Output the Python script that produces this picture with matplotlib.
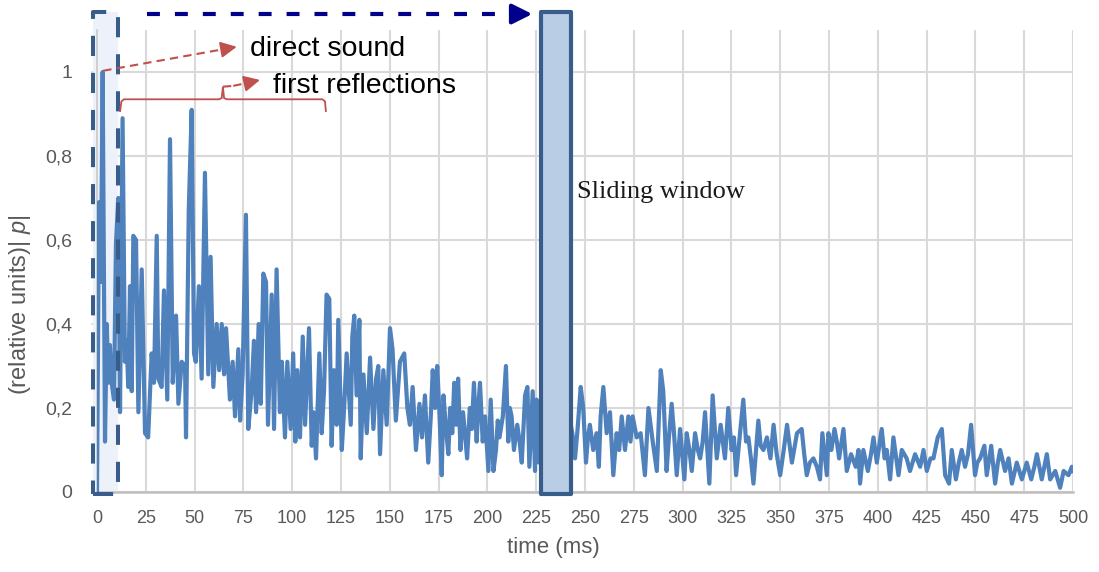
import matplotlib
matplotlib.use('Agg')
import matplotlib.pyplot as plt
from matplotlib.patches import Rectangle, PathPatch
from matplotlib.path import Path

plt.rcParams['font.family'] = ['Liberation Sans', 'DejaVu Sans']
plt.rcParams['mathtext.fontset'] = 'custom'
plt.rcParams['mathtext.it'] = 'Liberation Sans:italic'

# tiempo (ms) y amplitud relativa |p|
t_ms = [
    0, 1.0, 2.0, 2.9, 4.1, 5.0, 5.8, 6.6, 7.5, 8.7,
    9.7, 10.9, 11.8, 13.1, 14.3, 15.2, 16.0, 16.9, 17.8, 18.6,
    20.0, 21.2, 22.9, 24.6, 26.2, 28.0, 29.2, 30.6, 31.4, 33.1,
    34.3, 36.0, 37.4, 38.8, 40.5, 41.7, 43.4, 45.1, 45.6, 47.0,
    48.5, 49.7, 50.6, 52.2, 53.6, 55.3, 57.0, 58.2, 59.6, 61.3,
    62.6, 63.9, 65.1, 66.1, 68.1, 69.5, 70.7, 72.4, 73.3, 74.6,
    76.3, 77.5, 79.2, 80.4, 81.5, 82.8, 83.9, 85.2, 86.6, 87.6,
    89.5, 90.7, 92.0, 93.7, 94.7, 96.3, 97.5, 99.2, 100.5, 101.6,
    102.6, 104.0, 105.4, 106.6, 108.6, 110.0, 110.9, 112.2, 113.9, 115.1,
    116.3, 117.6, 119.0, 120.2, 121.4, 122.8, 123.6, 125.4, 126.6, 127.9,
    130.0, 130.8, 131.8, 133.0, 134.4, 135.1, 136.5, 138.2, 139.9, 141.6,
    143.0, 144.1, 145.0, 146.7, 148.4, 150.1, 151.4, 153.1, 155.2, 157.4,
    159.0, 160.3, 161.7, 163.4, 165.2, 166.5, 168.0, 169.7, 171.0, 172.0,
    173.2, 174.3, 175.5, 176.6, 177.5, 178.8, 180.0, 180.9, 182.0, 183.0,
    184.0, 185.0, 186.2, 187.5, 188.5, 189.6, 191.0, 192.0, 193.1, 194.5,
    195.3, 196.2, 197.6, 198.8, 200.5, 201.7, 203.1, 204.4, 205.3, 206.2,
    207.9, 209.5, 210.7, 211.5, 212.4, 213.6, 215.3, 216.5, 217.6, 219.3,
    220.5, 221.5, 223.2, 224.4, 225.2, 226.4, 227.5, 228.5, 229.6, 230.7,
    231.6, 232.9, 234.0, 235.1, 236.0, 236.8, 238.0, 239.0, 240.2, 241.2,
    242.3, 243.5, 244.9, 246.2, 247.8, 249.1, 250.5, 251.5, 252.5, 254.2,
    255.9, 257.1, 258.0, 259.4, 261.1, 262.8, 264.5, 266.2, 267.5, 268.8,
    270.5, 272.2, 273.3, 274.4, 276.5, 278.5, 279.6, 280.7, 282.5, 284.7,
    286.8, 288.8, 290.1, 291.8, 293.0, 294.4, 295.6, 297.0, 298.7, 300.9,
    302.1, 303.5, 304.7, 306.4, 307.8, 309.0, 310.3, 311.5, 313.7, 315.4,
    316.5, 317.5, 319.5, 321.7, 323.4, 325.1, 326.3, 327.4, 329.0, 331.1,
    332.5, 333.7, 335.0, 336.3, 338.8, 340.0, 341.4, 343.2, 345.0, 346.6,
    348.2, 350.0, 351.8, 353.5, 356.0, 358.6, 361.0, 362.3, 363.6, 365.2,
    367.0, 368.8, 370.4, 371.6, 373.9, 374.7, 376.2, 377.8, 379.0, 380.2,
    382.4, 384.1, 386.3, 388.7, 390.1, 390.9, 392.6, 394.9, 396.5, 397.8,
    399.5, 402.0, 403.5, 404.6, 406.3, 408.0, 410.6, 412.3, 414.8, 416.5,
    419.1, 421.7, 423.4, 425.1, 427.0, 428.5, 430.7, 432.8, 434.5, 436.5,
    437.9, 440.0, 441.5, 443.0, 444.7, 446.2, 447.8, 449.8, 451.0, 452.4,
    454.6, 455.8, 458.1, 460.1, 461.5, 462.7, 465.2, 467.0, 468.7, 471.2,
    473.8, 476.3, 478.6, 480.2, 481.5, 484.0, 486.6, 488.3, 490.9, 493.4,
    495.2, 497.7, 499.4, 500.0,
]
p_rel = [
    0.0, 0.69, 0.50, 1.0, 0.12, 0.40, 0.26, 0.35, 0.26, 0.22,
    0.59, 0.70, 0.19, 0.89, 0.31, 0.36, 0.25, 0.49, 0.24, 0.61,
    0.60, 0.19, 0.53, 0.14, 0.13, 0.33, 0.26, 0.61, 0.27, 0.25,
    0.48, 0.22, 0.84, 0.26, 0.42, 0.21, 0.31, 0.30, 0.13, 0.67,
    0.91, 0.33, 0.31, 0.49, 0.27, 0.76, 0.28, 0.56, 0.25, 0.40,
    0.29, 0.40, 0.28, 0.39, 0.22, 0.31, 0.18, 0.34, 0.17, 0.28,
    0.66, 0.15, 0.24, 0.36, 0.19, 0.40, 0.21, 0.52, 0.50, 0.16,
    0.47, 0.15, 0.53, 0.19, 0.31, 0.13, 0.31, 0.15, 0.33, 0.12,
    0.29, 0.13, 0.37, 0.16, 0.39, 0.11, 0.19, 0.08, 0.33, 0.14,
    0.24, 0.47, 0.46, 0.11, 0.29, 0.16, 0.41, 0.10, 0.20, 0.33,
    0.16, 0.37, 0.42, 0.23, 0.41, 0.08, 0.28, 0.14, 0.32, 0.15,
    0.27, 0.30, 0.09, 0.29, 0.16, 0.39, 0.34, 0.17, 0.31, 0.33,
    0.20, 0.16, 0.25, 0.10, 0.21, 0.13, 0.23, 0.07, 0.18, 0.29,
    0.20, 0.30, 0.18, 0.04, 0.23, 0.15, 0.09, 0.20, 0.14, 0.26,
    0.16, 0.27, 0.10, 0.19, 0.14, 0.08, 0.20, 0.15, 0.26, 0.12,
    0.20, 0.26, 0.12, 0.18, 0.05, 0.22, 0.05, 0.10, 0.17, 0.13,
    0.18, 0.30, 0.12, 0.20, 0.18, 0.10, 0.16, 0.12, 0.07, 0.23,
    0.25, 0.06, 0.24, 0.05, 0.22, 0.07, 0.16, 0.20, 0.12, 0.18,
    0.14, 0.07, 0.15, 0.25, 0.15, 0.20, 0.09, 0.17, 0.25, 0.13,
    0.17, 0.14, 0.08, 0.15, 0.25, 0.20, 0.07, 0.13, 0.16, 0.10,
    0.14, 0.06, 0.18, 0.25, 0.14, 0.19, 0.04, 0.14, 0.10, 0.18,
    0.10, 0.18, 0.12, 0.18, 0.13, 0.14, 0.09, 0.04, 0.20, 0.12,
    0.05, 0.29, 0.24, 0.05, 0.13, 0.21, 0.14, 0.04, 0.15, 0.03,
    0.14, 0.10, 0.05, 0.14, 0.10, 0.08, 0.12, 0.19, 0.02, 0.23,
    0.15, 0.08, 0.16, 0.08, 0.20, 0.10, 0.13, 0.04, 0.12, 0.22,
    0.12, 0.13, 0.08, 0.02, 0.17, 0.11, 0.10, 0.13, 0.08, 0.16,
    0.09, 0.04, 0.10, 0.16, 0.07, 0.14, 0.15, 0.09, 0.04, 0.07,
    0.08, 0.06, 0.03, 0.14, 0.04, 0.14, 0.10, 0.15, 0.12, 0.08,
    0.15, 0.05, 0.09, 0.06, 0.10, 0.02, 0.10, 0.05, 0.09, 0.13,
    0.07, 0.15, 0.08, 0.10, 0.03, 0.13, 0.04, 0.10, 0.08, 0.05,
    0.09, 0.06, 0.10, 0.05, 0.08, 0.08, 0.13, 0.15, 0.04, 0.02,
    0.10, 0.03, 0.07, 0.10, 0.06, 0.09, 0.16, 0.04, 0.07, 0.08,
    0.11, 0.04, 0.11, 0.02, 0.07, 0.10, 0.05, 0.08, 0.02, 0.07,
    0.03, 0.07, 0.03, 0.06, 0.09, 0.03, 0.09, 0.03, 0.05, 0.01,
    0.05, 0.04, 0.06, 0.05,
]

x_ticks = list(range(0, 501, 25))
y_ticks = [0, 0.2, 0.4, 0.6, 0.8, 1.0]
y_labels = ['0', '0,2', '0,4', '0,6', '0,8', '1']

azul = '#4F81BD'
azul_osc = '#385D8A'
rojo = '#C0504D'
marino = '#00008B'


def flecha(ax, x0, y0, x1, y1, color, lw, dash, escala, xm, ym):
    # tramo discontinuo + punta solida
    ax.plot([x0, xm], [y0, ym], color=color, lw=lw, linestyle=(0, dash),
            solid_capstyle='butt', clip_on=False, zorder=5)
    ax.annotate('', xy=(x1, y1), xytext=(xm, ym),
                arrowprops=dict(arrowstyle='-|>', color=color, lw=lw,
                                mutation_scale=escala, shrinkA=0, shrinkB=0),
                annotation_clip=False, zorder=5)


fig = plt.figure(figsize=(10.99, 5.72), dpi=100)
ax = fig.add_axes([97 / 1099, 1 - 492 / 572, 976 / 1099, 462 / 572])
ax.set_xlim(0, 500)
ax.set_ylim(0, 1.1)

ax.set_xticks(x_ticks)
ax.set_xticklabels([str(v) for v in x_ticks])
ax.set_yticks(y_ticks)
ax.set_yticklabels(y_labels)
ax.tick_params(axis='x', length=0, pad=13, labelsize=13, labelcolor='#595959')
ax.tick_params(axis='y', length=4, color='#D9D9D9', width=1.2, pad=14,
               labelsize=14, labelcolor='#595959')
ax.grid(True, color='#D9D9D9', lw=1.5)
ax.set_axisbelow(True)
for s in ['top', 'right']:
    ax.spines[s].set_visible(False)
ax.spines['left'].set_color('#C8C8C8')
ax.spines['left'].set_linewidth(1.2)
ax.spines['bottom'].set_color('#BFBFBF')
ax.spines['bottom'].set_linewidth(1.8)

# senal
ax.plot(t_ms, p_rel, color=azul, lw=3.0, solid_joinstyle='round', zorder=3)

# zona del sonido directo
ax.add_patch(Rectangle((-2.0, -0.005), 12.8, 1.148, facecolor='#EDF2FA',
                       edgecolor='none', clip_on=False, zorder=1))
ax.add_patch(Rectangle((-2.0, -0.005), 12.8, 1.148, facecolor='none',
                       edgecolor=azul_osc, lw=2.9, linestyle=(0, (5, 4.2)),
                       joinstyle='round', clip_on=False, zorder=4))

# ventana deslizante
ax.add_patch(Rectangle((227.7, -0.005), 15.0, 1.148, facecolor='#B9CDE5',
                       edgecolor=azul_osc, lw=3, joinstyle='round',
                       clip_on=False, zorder=4))
ax.text(246, 0.700, 'Sliding window', family='Liberation Serif', fontsize=19,
        color='#1a1a1a', va='baseline', ha='left')

# flecha azul discontinua
flecha(ax, 25.5, 1.138, 223, 1.138, marino, 3, (3.1, 3.6), 30, 215, 1.138)

# sonido directo
flecha(ax, 3.2, 1.003, 71.6, 1.060, rojo, 1.5, (4, 2.5), 24, 64.5, 1.054)
ax.text(78.4, 1.038, 'direct sound', fontsize=20.5, color='black', va='baseline')

# llave de primeras reflexiones
llave = Path([(11.8, 0.905), (12.5, 0.930), (13.8, 0.935), (62.5, 0.935),
              (63.9, 0.938), (64.5, 0.965), (65.1, 0.938), (66.5, 0.935),
              (115.5, 0.935), (116.8, 0.930), (117.3, 0.905)])
ax.add_patch(PathPatch(llave, facecolor='none', edgecolor=rojo, lw=1.3,
                       clip_on=False, zorder=5))
ax.plot([64.5, 69.8], [0.965, 0.967], color=rojo, lw=1.5,
        linestyle=(0, (4, 2.5)), zorder=5)
flecha(ax, 69.8, 0.967, 83.5, 0.981, rojo, 1.5, (4, 2.5), 24, 77.0, 0.974)
ax.text(90.2, 0.949, 'first reflections', fontsize=20.5, color='black',
        va='baseline')

fig.text(553 / 1099, 1 - 547 / 572, 'time (ms)', fontsize=16, color='#595959',
         ha='center', va='center')
fig.text(20 / 1099, 1 - 305 / 572, '(relative units)| $p$|', fontsize=17,
         color='#595959', rotation=90, ha='center', va='center')

fig.savefig('out.png', dpi=100)
